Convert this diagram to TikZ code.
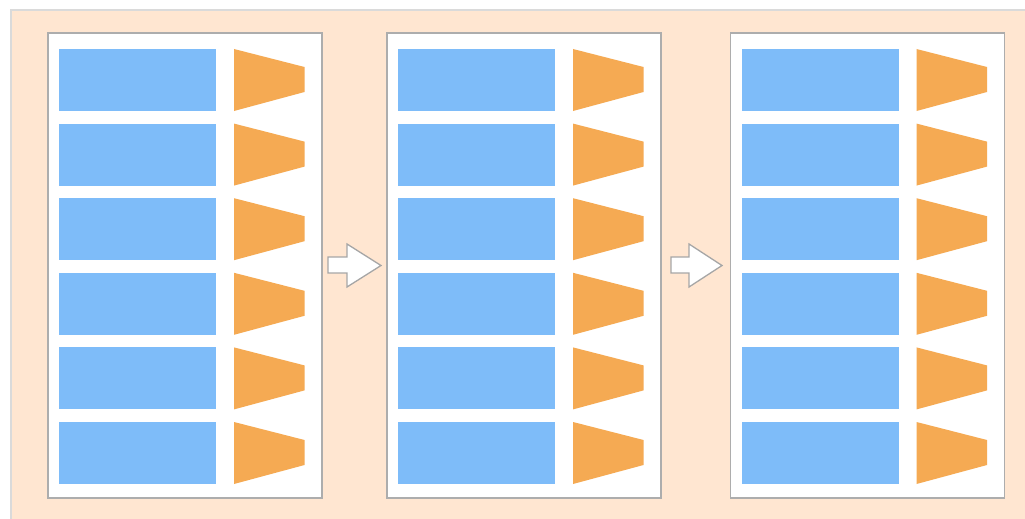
\documentclass[tikz,border=0pt]{standalone}
\begin{document}
\begin{tikzpicture}[x=1pt,y=-1pt,
  sheet/.style={fill=white,draw=black!32,line width=1.6pt,anchor=north west,
    minimum width=274pt,minimum height=465pt,inner sep=0pt,outer sep=0pt},
  bar/.style={fill=barblue,draw=none},
  wedge/.style={fill=wedgeorange,draw=none},
  flow/.style={fill=white,draw=black!35,line width=1.3pt,line join=miter}]
\definecolor{peach}{HTML}{FFE6D1}
\definecolor{frame}{HTML}{DADADA}
\definecolor{barblue}{HTML}{7EBCF9}
\definecolor{wedgeorange}{HTML}{F5AA53}
\useasboundingbox (0,0) rectangle (1025,519);
\begin{scope}
  \clip (0,0) rectangle (1025,519);
  \fill[peach,draw=frame,line width=1.8pt] (11,10) rectangle (1040,535);
\end{scope}
% three sheets, each holding six rows of a bar and a wedge
\foreach \n/\x in {1/48,2/387,3/730.5}{
  \node[sheet] (p\n) at (\x,33) {};
  \foreach \i in {0,...,5}{
    \pgfmathsetmacro{\yy}{49+74.6*\i}
    \fill[bar] (\x+11,\yy) rectangle (\x+168,\yy+62);
    \fill[wedge] (\x+186,\yy) -- (\x+256.5,\yy+18) -- (\x+256.5,\yy+43) -- (\x+186,\yy+62) -- cycle;
  }
}
% block arrows between the sheets
\draw[flow] (328,257) -- (347,257) -- (347,244) -- (381,265.5)
  -- (347,287) -- (347,273) -- (328,273) -- cycle;
\draw[flow] (671,257) -- (689,257) -- (689,244) -- (722,265.5)
  -- (689,287) -- (689,273) -- (671,273) -- cycle;
\end{tikzpicture}
\end{document}
